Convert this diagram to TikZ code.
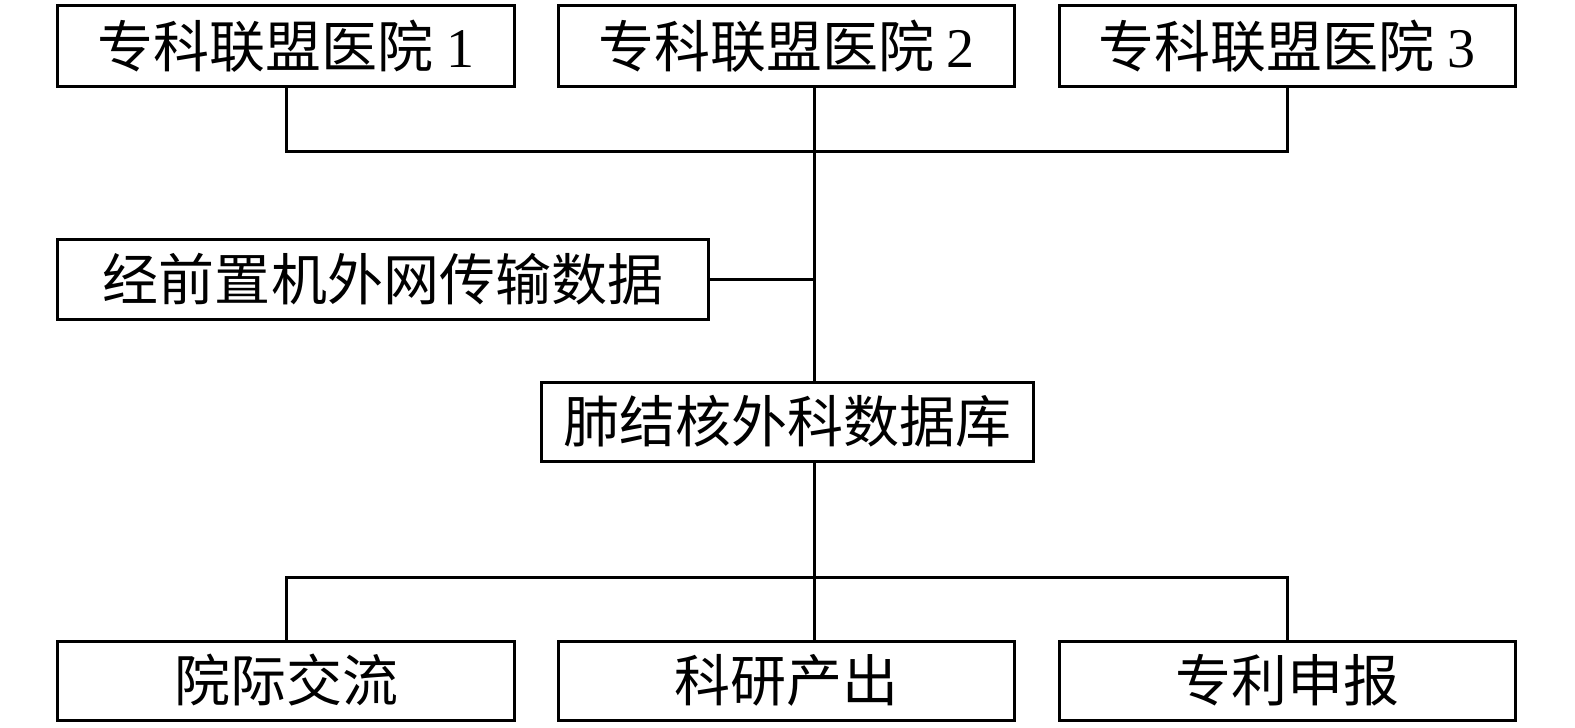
\documentclass[tikz,border=0pt]{standalone}
\usepackage{fontspec}
\setmainfont{Liberation Serif}
\newfontfamily\cjk{Noto Sans CJK SC}
\newfontfamily\lat{Liberation Serif}
\begin{document}
\begin{tikzpicture}[x=1bp,y=-1bp,
  box/.style={draw=black, line width=3bp, rectangle, inner sep=0pt, outer sep=0pt,
    font=\cjk\fontsize{56bp}{66bp}\selectfont},
  wide/.style={box, minimum width=456bp, minimum height=81bp},
  conn/.style={draw=black, line width=3bp}]
\useasboundingbox[fill=white] (0,0) rectangle (1575,728);
\node[wide] (h1) at (286,46.5) {专科联盟医院 {\lat 1}};
\node[wide] (h2) at (786.5,46.5) {专科联盟医院 {\lat 2}};
\node[wide] (h3) at (1287,46.5) {专科联盟医院 {\lat 3}};
\node[box, minimum width=650bp, minimum height=80bp] (pre) at (383,279) {经前置机外网传输数据};
\node[box, minimum width=492bp, minimum height=79bp] (db) at (787,421.5) {肺结核外科数据库};
\node[wide, minimum height=79bp] (o1) at (286,680.5) {院际交流};
\node[wide, minimum height=79bp] (o2) at (786.5,680.5) {科研产出};
\node[wide, minimum height=79bp] (o3) at (1287,680.5) {专利申报};
\coordinate (t1) at (814,151);
\coordinate (tm) at (814,279);
\coordinate (t2) at (814,577);
\draw[conn] (h1.south) |- (t1);
\draw[conn] (h3.south) |- (t1);
\draw[conn] (h2.south -| t1) -- (db.north -| t1);
\draw[conn] (pre.east) -- (tm);
\draw[conn] (db.south -| t2) -- (t2);
\draw[conn] (o1.north) |- (t2);
\draw[conn] (o3.north) |- (t2);
\draw[conn] (t2) -- (o2.north -| t2);
\end{tikzpicture}
\end{document}
